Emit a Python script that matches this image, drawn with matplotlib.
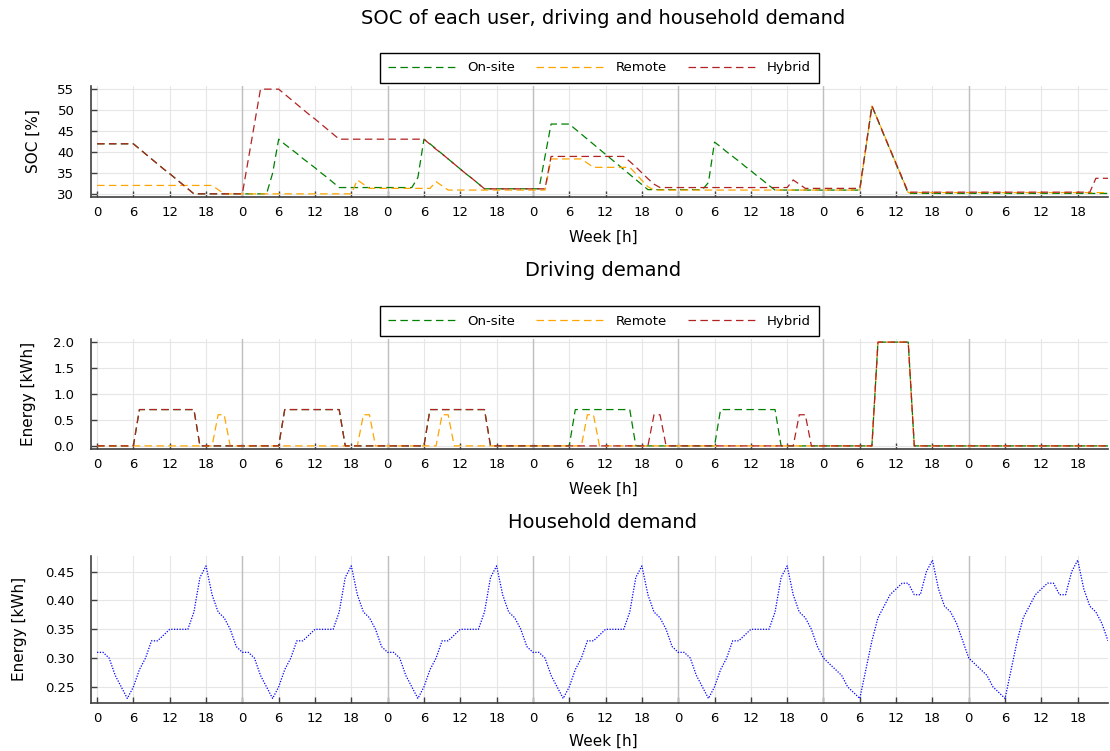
import numpy as np
import matplotlib
matplotlib.use("Agg")
import matplotlib.pyplot as plt

plt.rcParams['font.family'] = ['DejaVu Sans']

# ---------------- data (hourly, one week = 168 h) ----------------
soc_onsite = [
    42.0, 42.0, 42.0, 42.0, 42.0, 42.0, 42.0, 40.8, 39.6, 38.4, 37.2, 36.0, 34.9, 33.7, 32.5, 31.3, 30.1, 30.1, 30.1, 30.1, 30.1, 30.1, 30.1, 30.1,
    30.1, 30.1, 30.1, 30.1, 30.1, 35.0, 43.1, 41.9, 40.8, 39.7, 38.5, 37.4, 36.3, 35.1, 34.0, 32.8, 31.6, 31.6, 31.6, 31.6, 31.6, 31.6, 31.6, 31.6,
    31.6, 31.6, 31.6, 31.6, 31.6, 34.0, 43.1, 42.0, 40.8, 39.6, 38.4, 37.2, 36.0, 34.8, 33.7, 32.5, 31.3, 31.3, 31.3, 31.3, 31.3, 31.3, 31.3, 31.3,
    31.3, 31.3, 39.0, 46.7, 46.7, 46.7, 46.7, 45.5, 44.3, 43.1, 41.9, 40.7, 39.5, 38.3, 37.1, 35.9, 34.7, 33.5, 32.3, 31.1, 31.1, 31.1, 31.1, 31.1,
    31.1, 31.1, 31.1, 31.1, 31.1, 32.8, 42.4, 41.3, 40.1, 39.0, 37.9, 36.7, 35.6, 34.4, 33.3, 32.1, 31.0, 31.0, 31.0, 31.0, 31.0, 31.0, 31.0, 31.0,
    31.0, 31.0, 31.0, 31.0, 31.0, 31.0, 31.0, 41.0, 51.0, 47.5, 44.0, 40.6, 37.1, 33.7, 30.2, 30.2, 30.2, 30.2, 30.2, 30.2, 30.2, 30.2, 30.2, 30.2,
    30.2, 30.2, 30.2, 30.2, 30.2, 30.2, 30.2, 30.2, 30.2, 30.2, 30.2, 30.2, 30.2, 30.2, 30.2, 30.2, 30.2, 30.2, 30.2, 30.2, 30.2, 30.2, 30.2, 30.2,
]
soc_remote = [
    32.1, 32.1, 32.1, 32.1, 32.1, 32.1, 32.1, 32.1, 32.1, 32.1, 32.1, 32.1, 32.1, 32.1, 32.1, 32.1, 32.1, 32.1, 32.1, 32.1, 31.1, 30.1, 30.1, 30.1,
    30.1, 30.1, 30.1, 30.1, 30.1, 30.1, 30.1, 30.1, 30.1, 30.1, 30.1, 30.1, 30.1, 30.1, 30.1, 30.1, 30.1, 30.1, 30.1, 33.4, 32.4, 31.4, 31.4, 31.4,
    31.4, 31.4, 31.4, 31.4, 31.4, 31.4, 31.4, 31.4, 33.0, 32.0, 31.0, 31.0, 31.0, 31.0, 31.0, 31.0, 31.0, 31.0, 31.0, 31.0, 31.0, 31.0, 31.0, 31.0,
    31.0, 31.0, 31.0, 38.4, 38.4, 38.4, 38.4, 38.4, 38.4, 37.4, 36.4, 36.4, 36.4, 36.4, 36.4, 36.4, 36.4, 34.9, 33.3, 31.8, 31.0, 31.0, 31.0, 31.0,
    31.0, 31.0, 31.0, 31.0, 31.0, 31.0, 31.0, 31.0, 31.0, 31.0, 31.0, 31.0, 31.0, 31.0, 31.0, 31.0, 31.0, 31.0, 31.0, 31.0, 31.0, 31.0, 31.0, 31.0,
    31.0, 31.0, 31.0, 31.0, 31.0, 31.0, 31.0, 41.0, 51.0, 47.6, 44.2, 40.7, 37.3, 33.9, 30.4, 30.4, 30.4, 30.4, 30.4, 30.4, 30.4, 30.4, 30.4, 30.4,
    30.4, 30.4, 30.4, 30.4, 30.4, 30.4, 30.4, 30.4, 30.4, 30.4, 30.4, 30.4, 30.4, 30.4, 30.4, 30.4, 30.4, 30.4, 30.4, 30.4, 30.4, 30.4, 30.4, 30.4,
]
soc_hybrid = [
    42.0, 42.0, 42.0, 42.0, 42.0, 42.0, 42.0, 40.8, 39.6, 38.4, 37.2, 36.0, 34.9, 33.7, 32.5, 31.3, 30.1, 30.1, 30.1, 30.1, 30.1, 30.1, 30.1, 30.1,
    30.1, 38.4, 46.7, 55.0, 55.0, 55.0, 55.0, 53.8, 52.6, 51.4, 50.2, 49.0, 47.9, 46.7, 45.5, 44.3, 43.1, 43.1, 43.1, 43.1, 43.1, 43.1, 43.1, 43.1,
    43.1, 43.1, 43.1, 43.1, 43.1, 43.1, 43.1, 41.9, 40.7, 39.6, 38.4, 37.2, 36.0, 34.8, 33.7, 32.5, 31.3, 31.3, 31.3, 31.3, 31.3, 31.3, 31.3, 31.3,
    31.3, 31.3, 31.3, 39.0, 39.0, 39.0, 39.0, 39.0, 39.0, 39.0, 39.0, 39.0, 39.0, 39.0, 39.0, 39.0, 37.8, 36.5, 35.1, 33.7, 32.4, 31.6, 31.6, 31.6,
    31.6, 31.6, 31.6, 31.6, 31.6, 31.6, 31.6, 31.6, 31.6, 31.6, 31.6, 31.6, 31.6, 31.6, 31.6, 31.6, 31.6, 31.6, 31.6, 33.4, 32.4, 31.4, 31.4, 31.4,
    31.4, 31.4, 31.4, 31.4, 31.4, 31.4, 31.4, 41.2, 51.0, 47.6, 44.1, 40.7, 37.3, 33.9, 30.5, 30.5, 30.5, 30.5, 30.5, 30.5, 30.5, 30.5, 30.5, 30.5,
    30.5, 30.5, 30.5, 30.5, 30.5, 30.5, 30.5, 30.5, 30.5, 30.5, 30.5, 30.5, 30.5, 30.5, 30.5, 30.5, 30.5, 30.5, 30.5, 30.5, 30.5, 33.8, 33.8, 33.8,
]

drive_onsite = [
    0, 0, 0, 0, 0, 0, 0, 0.7, 0.7, 0.7, 0.7, 0.7, 0.7, 0.7, 0.7, 0.7, 0.7, 0, 0, 0, 0, 0, 0, 0,
    0, 0, 0, 0, 0, 0, 0, 0.7, 0.7, 0.7, 0.7, 0.7, 0.7, 0.7, 0.7, 0.7, 0.7, 0, 0, 0, 0, 0, 0, 0,
    0, 0, 0, 0, 0, 0, 0, 0.7, 0.7, 0.7, 0.7, 0.7, 0.7, 0.7, 0.7, 0.7, 0.7, 0, 0, 0, 0, 0, 0, 0,
    0, 0, 0, 0, 0, 0, 0, 0.7, 0.7, 0.7, 0.7, 0.7, 0.7, 0.7, 0.7, 0.7, 0.7, 0, 0, 0, 0, 0, 0, 0,
    0, 0, 0, 0, 0, 0, 0, 0.7, 0.7, 0.7, 0.7, 0.7, 0.7, 0.7, 0.7, 0.7, 0.7, 0, 0, 0, 0, 0, 0, 0,
    0, 0, 0, 0, 0, 0, 0, 0, 0, 2.0, 2.0, 2.0, 2.0, 2.0, 2.0, 0, 0, 0, 0, 0, 0, 0, 0, 0,
    0, 0, 0, 0, 0, 0, 0, 0, 0, 0, 0, 0, 0, 0, 0, 0, 0, 0, 0, 0, 0, 0, 0, 0,
]
drive_remote = [
    0, 0, 0, 0, 0, 0, 0, 0, 0, 0, 0, 0, 0, 0, 0, 0, 0, 0, 0, 0, 0.6, 0.6, 0, 0,
    0, 0, 0, 0, 0, 0, 0, 0, 0, 0, 0, 0, 0, 0, 0, 0, 0, 0, 0, 0, 0.6, 0.6, 0, 0,
    0, 0, 0, 0, 0, 0, 0, 0, 0, 0.6, 0.6, 0, 0, 0, 0, 0, 0, 0, 0, 0, 0, 0, 0, 0,
    0, 0, 0, 0, 0, 0, 0, 0, 0, 0.6, 0.6, 0, 0, 0, 0, 0, 0, 0, 0, 0, 0, 0, 0, 0,
    0, 0, 0, 0, 0, 0, 0, 0, 0, 0, 0, 0, 0, 0, 0, 0, 0, 0, 0, 0, 0, 0, 0, 0,
    0, 0, 0, 0, 0, 0, 0, 0, 0, 2.0, 2.0, 2.0, 2.0, 2.0, 2.0, 0, 0, 0, 0, 0, 0, 0, 0, 0,
    0, 0, 0, 0, 0, 0, 0, 0, 0, 0, 0, 0, 0, 0, 0, 0, 0, 0, 0, 0, 0, 0, 0, 0,
]
drive_hybrid = [
    0, 0, 0, 0, 0, 0, 0, 0.7, 0.7, 0.7, 0.7, 0.7, 0.7, 0.7, 0.7, 0.7, 0.7, 0, 0, 0, 0, 0, 0, 0,
    0, 0, 0, 0, 0, 0, 0, 0.7, 0.7, 0.7, 0.7, 0.7, 0.7, 0.7, 0.7, 0.7, 0.7, 0, 0, 0, 0, 0, 0, 0,
    0, 0, 0, 0, 0, 0, 0, 0.7, 0.7, 0.7, 0.7, 0.7, 0.7, 0.7, 0.7, 0.7, 0.7, 0, 0, 0, 0, 0, 0, 0,
    0, 0, 0, 0, 0, 0, 0, 0, 0, 0, 0, 0, 0, 0, 0, 0, 0, 0, 0, 0, 0.6, 0.6, 0, 0,
    0, 0, 0, 0, 0, 0, 0, 0, 0, 0, 0, 0, 0, 0, 0, 0, 0, 0, 0, 0, 0.6, 0.6, 0, 0,
    0, 0, 0, 0, 0, 0, 0, 0, 0, 2.0, 2.0, 2.0, 2.0, 2.0, 2.0, 0, 0, 0, 0, 0, 0, 0, 0, 0,
    0, 0, 0, 0, 0, 0, 0, 0, 0, 0, 0, 0, 0, 0, 0, 0, 0, 0, 0, 0, 0, 0, 0, 0,
]

household = [
    0.31, 0.31, 0.30, 0.27, 0.25, 0.23, 0.25, 0.28, 0.30, 0.33, 0.33, 0.34, 0.35, 0.35, 0.35, 0.35, 0.38, 0.44, 0.46, 0.41, 0.38, 0.37, 0.35, 0.32,
    0.31, 0.31, 0.30, 0.27, 0.25, 0.23, 0.25, 0.28, 0.30, 0.33, 0.33, 0.34, 0.35, 0.35, 0.35, 0.35, 0.38, 0.44, 0.46, 0.41, 0.38, 0.37, 0.35, 0.32,
    0.31, 0.31, 0.30, 0.27, 0.25, 0.23, 0.25, 0.28, 0.30, 0.33, 0.33, 0.34, 0.35, 0.35, 0.35, 0.35, 0.38, 0.44, 0.46, 0.41, 0.38, 0.37, 0.35, 0.32,
    0.31, 0.31, 0.30, 0.27, 0.25, 0.23, 0.25, 0.28, 0.30, 0.33, 0.33, 0.34, 0.35, 0.35, 0.35, 0.35, 0.38, 0.44, 0.46, 0.41, 0.38, 0.37, 0.35, 0.32,
    0.31, 0.31, 0.30, 0.27, 0.25, 0.23, 0.25, 0.28, 0.30, 0.33, 0.33, 0.34, 0.35, 0.35, 0.35, 0.35, 0.38, 0.44, 0.46, 0.41, 0.38, 0.37, 0.35, 0.32,
    0.30, 0.29, 0.28, 0.27, 0.25, 0.24, 0.23, 0.28, 0.33, 0.37, 0.39, 0.41, 0.42, 0.43, 0.43, 0.41, 0.41, 0.45, 0.47, 0.42, 0.39, 0.38, 0.36, 0.33,
    0.30, 0.29, 0.28, 0.27, 0.25, 0.24, 0.23, 0.28, 0.33, 0.37, 0.39, 0.41, 0.42, 0.43, 0.43, 0.41, 0.41, 0.45, 0.47, 0.42, 0.39, 0.38, 0.36, 0.33,
]

series_names = ["On-site", "Remote", "Hybrid"]
xtick_pos = list(range(0, 168, 6))
xtick_labels = ["0", "6", "12", "18"] * 7
day_bounds = [24, 48, 72, 96, 120, 144]
soc_ticks = [30, 35, 40, 45, 50, 55]
soc_ticklabels = ["30", "35", "40", "45", "50", "55"]
drive_ticks = [0.0, 0.5, 1.0, 1.5, 2.0]
drive_ticklabels = ["0.0", "0.5", "1.0", "1.5", "2.0"]
hh_ticks = [0.25, 0.30, 0.35, 0.40, 0.45]
hh_ticklabels = ["0.25", "0.30", "0.35", "0.40", "0.45"]

# ---------------- styling ----------------
colors = ["#008000", "#FFA500", "#B22222"]
hours = np.arange(len(household))
W, H = 1110, 751
fig = plt.figure(figsize=(W / 100, H / 100), dpi=100)

def px_axes(left, top, right, bottom):
    return fig.add_axes([left / W, 1 - bottom / H, (right - left) / W, (bottom - top) / H])

ax1 = px_axes(91, 86, 1108, 197)
ax2 = px_axes(91, 339, 1108, 449)
ax3 = px_axes(91, 556, 1108, 702.6)

TICK_FS = 9.5
LBL_FS = 11
TITLE_FS = 14

def style(ax, yticks, ylabels, ylim):
    ax.set_xlim(-1, 167)
    ax.set_ylim(*ylim)
    ax.set_xticks(xtick_pos)
    ax.set_xticklabels(xtick_labels, fontsize=TICK_FS)
    ax.set_yticks(yticks)
    ax.set_yticklabels(ylabels, fontsize=TICK_FS)
    ax.grid(True, color="#e6e6e6", lw=0.8, zorder=0)
    ax.set_axisbelow(True)
    for d in day_bounds:
        ax.axvline(d, color="#bfbfbf", lw=1.0, zorder=1)
    for s in ["top", "right"]:
        ax.spines[s].set_visible(False)
    for s in ["left", "bottom"]:
        ax.spines[s].set_color("#404040")
        ax.spines[s].set_linewidth(1.2)
    ax.tick_params(direction="in", length=4, width=1, color="#404040")
    ax.tick_params(axis="x", pad=6.5)
    ax.tick_params(axis="y", pad=12)

dash = (0, (6, 3.5))
socs = [soc_onsite, soc_remote, soc_hybrid]
drives = [drive_onsite, drive_remote, drive_hybrid]
for name, c, s in zip(series_names, colors, socs):
    ax1.plot(hours, s, color=c, lw=0.9, linestyle=dash, label=name, zorder=3)
for name, c, d in zip(series_names, colors, drives):
    ax2.plot(hours, d, color=c, lw=0.9, linestyle=dash, label=name, zorder=3)
ax3.plot(hours, household, color="#0000FF", lw=0.9, linestyle=(0, (1, 1.2)), zorder=3)

style(ax1, soc_ticks, soc_ticklabels, (29.35, 55.75))
style(ax2, drive_ticks, drive_ticklabels, (-0.06, 2.06))
style(ax3, hh_ticks, hh_ticklabels, (0.2228, 0.4772))

for ax in (ax1, ax2):
    leg = ax.legend(loc="lower center", bbox_to_anchor=(0.5, 1.03), ncol=3, fontsize=9.5,
                    frameon=True, fancybox=False, edgecolor="black", framealpha=1,
                    handlelength=5.2, handletextpad=0.8, columnspacing=1.6,
                    borderpad=0.62, borderaxespad=0)
    leg.get_frame().set_linewidth(1.0)

cx = 603 / W
fig.text(cx, 1 - 18 / H, "SOC of each user, driving and household demand", fontsize=TITLE_FS, ha="center", va="center")
fig.text(cx, 1 - 270 / H, "Driving demand", fontsize=TITLE_FS, ha="center", va="center")
fig.text(cx, 1 - 522 / H, "Household demand", fontsize=TITLE_FS, ha="center", va="center")
for yy in (237, 489, 741):
    fig.text(cx, 1 - yy / H, "Week [h]", fontsize=LBL_FS, ha="center", va="center")
fig.text(33 / W, 1 - 141 / H, "SOC [%]", fontsize=LBL_FS, rotation=90, ha="center", va="center")
fig.text(29 / W, 1 - 394 / H, "Energy [kWh]", fontsize=LBL_FS, rotation=90, ha="center", va="center")
fig.text(20 / W, 1 - 629 / H, "Energy [kWh]", fontsize=LBL_FS, rotation=90, ha="center", va="center")

fig.savefig("out.png", dpi=100)
